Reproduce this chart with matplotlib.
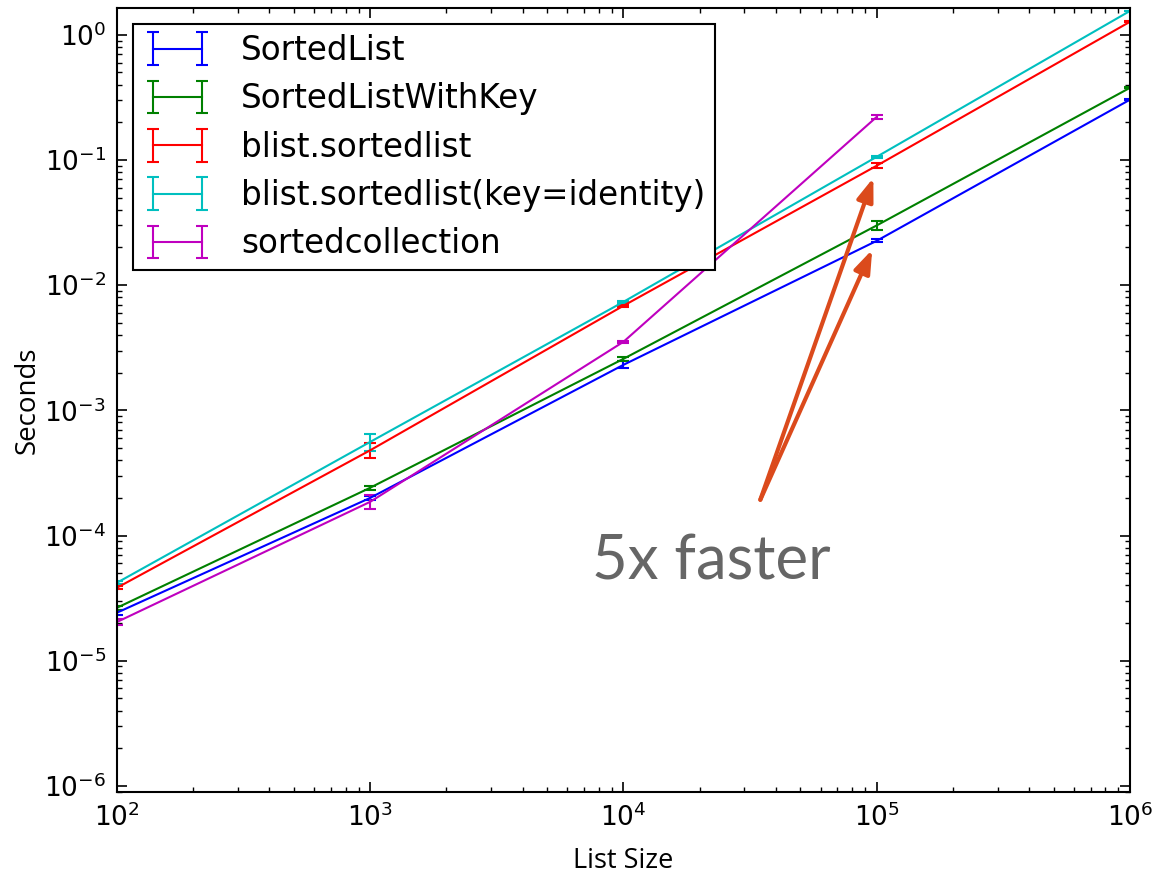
import numpy as np
import matplotlib.pyplot as plt

# list sizes and measured timings (seconds)
sizes = [1e2, 1e3, 1e4, 1e5, 1e6]
sizes_sc = [1e2, 1e3, 1e4, 1e5]

sortedlist = [2.42e-5, 2.0e-4, 2.31e-3, 2.26e-2, 0.303]
sortedlist_err = [1e-6, 8e-6, 1.5e-4, 6e-4, 4e-3]

sortedlist_key = [2.65e-5, 2.41e-4, 2.58e-3, 3.0e-2, 0.377]
sortedlist_key_err = [1e-6, 8e-6, 8e-5, 2.5e-3, 4e-3]

blist = [3.83e-5, 4.8e-4, 6.85e-3, 9.0e-2, 1.27]
blist_err = [1e-6, 6.5e-5, 1.5e-4, 4e-3, 1e-2]

blist_key = [4.2e-5, 5.6e-4, 7.36e-3, 0.106, 1.55]
blist_key_err = [1e-6, 8.5e-5, 1.5e-4, 2e-3, 1e-2]

sortedcoll = [2.04e-5, 1.86e-4, 3.53e-3, 0.221]
sortedcoll_err = [1e-6, 2.3e-5, 8e-5, 7e-3]

series = [
    ('SortedList', sizes, sortedlist, sortedlist_err, 'b'),
    ('SortedListWithKey', sizes, sortedlist_key, sortedlist_key_err, 'g'),
    ('blist.sortedlist', sizes, blist, blist_err, 'r'),
    ('blist.sortedlist(key=identity)', sizes, blist_key, blist_key_err, 'c'),
    ('sortedcollection', sizes_sc, sortedcoll, sortedcoll_err, 'm'),
]

plt.rcParams['xtick.direction'] = 'in'
plt.rcParams['ytick.direction'] = 'in'
plt.rcParams['xtick.top'] = True
plt.rcParams['ytick.right'] = True

fig = plt.figure(figsize=(11.53, 8.77), dpi=100)
ax = fig.add_axes([0.1015, 0.097, 0.8785, 0.894])

for label, xs, ys, errs, color in series:
    ax.errorbar(xs, ys, yerr=errs, color=color, lw=1.5, capsize=4,
                capthick=1.5, label=label)

ax.set_xscale('log')
ax.set_yscale('log')
ax.set_xlim(1e2, 1e6)
ax.set_ylim(8.95e-7, 1.64)

for s in ax.spines.values():
    s.set_linewidth(1.5)
ax.tick_params(which='major', length=7, width=1.2, labelsize=19, pad=8)
ax.tick_params(which='minor', length=3.5, width=1.0)

ax.set_xlabel('List Size', fontsize=19.5, family='Open Sans', labelpad=11)
ax.set_ylabel('Seconds', fontsize=20, family='Open Sans', labelpad=2)

leg = ax.legend(loc='upper left', fontsize=23.5, numpoints=2, handlelength=2.1,
                handletextpad=0.9, fancybox=False, framealpha=1,
                edgecolor='black', labelspacing=0.47, borderaxespad=0.5,
                borderpad=0.3)
leg.get_frame().set_linewidth(1.5)

# callout
arrow_color = '#DB4A1C'
for tip in [(9.7e4, 0.0721), (9.6e4, 0.0192)]:
    ax.annotate('', xy=tip, xytext=(3.47e4, 1.93e-4),
                arrowprops=dict(arrowstyle='-|>,head_length=1.4,head_width=0.5',
                                color=arrow_color, lw=3.0, shrinkA=0, shrinkB=0))
ax.text(2.22e4, 6.18e-5, '5x faster', fontsize=44.5, family='Lato', color='#666666',
        ha='center', va='center')

fig.savefig('out.png', dpi=100, facecolor='white')
